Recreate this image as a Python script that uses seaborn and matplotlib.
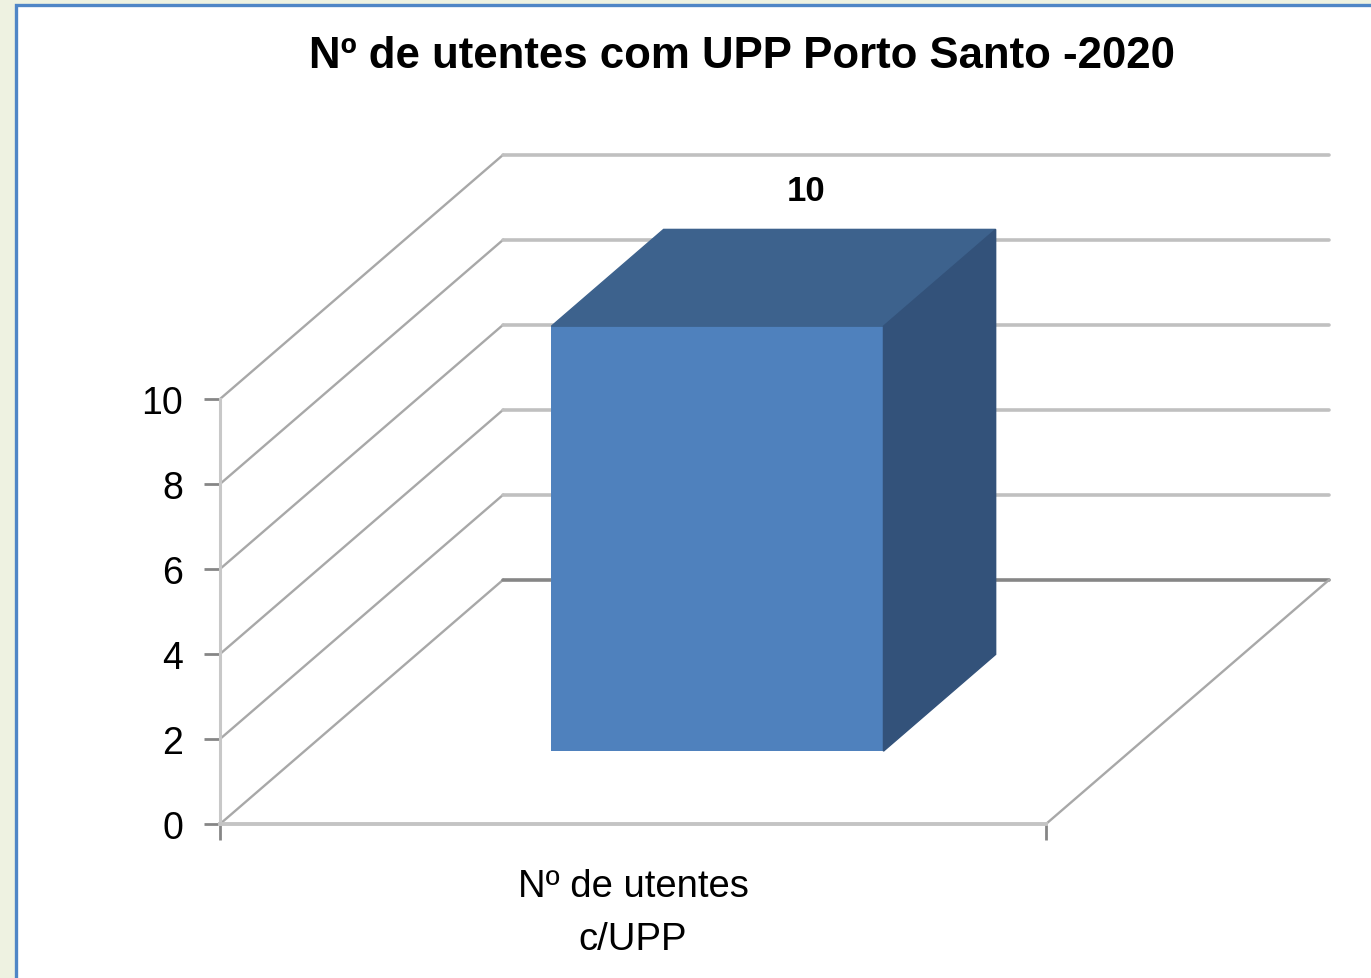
import matplotlib
matplotlib.use("Agg")
import matplotlib.pyplot as plt
from matplotlib.patches import Rectangle
import seaborn as sns

# dados do gráfico
categorias = ["Nº de utentes\nc/UPP"]
valores = [10]
ticks_y = [0, 2, 4, 6, 8, 10]
titulo = "Nº de utentes com UPP Porto Santo -2020"

sns.set_theme(style="white")
plt.rcParams['font.family'] = ['Liberation Sans', 'DejaVu Sans']

W, H = 1371, 979
fig = plt.figure(figsize=(W / 100, H / 100), dpi=100, facecolor='#eef2e1')

# painel branco com borda azul
painel = Rectangle((16 / W, -0.02), 1.1, (H - 6) / H + 0.02, transform=fig.transFigure,
                   facecolor='white', edgecolor='#4f86c6', linewidth=2.4, zorder=-1)
fig.add_artist(painel)

# eixos: x em unidades de categoria, y em valores
px_x = 826.0   # pixels por unidade de categoria
px_y = 42.5    # pixels por unidade de valor
ax = fig.add_axes([220 / W, 154 / H, 1120 / W, 675 / H])
ax.set_facecolor('none')

# profundidade (efeito 3D)
dx, dy = 0.343, 5.75
t1, t2 = 0.298, 0.694

# paredes / grelha
for v in ticks_y:
    ax.plot([-0.5, -0.5 + dx], [v, v + dy], color='#a8a8a8', lw=1.7, zorder=1, clip_on=False)
    cor = '#868686' if v == 0 else '#c0c0c0'
    ax.plot([-0.5 + dx, 0.5 + dx], [v + dy, v + dy], color=cor, lw=2.6, zorder=1, clip_on=False)
ax.plot([0.5, 0.5 + dx], [0, dy], color='#a8a8a8', lw=1.7, zorder=1, clip_on=False)

sns.barplot(x=categorias, y=valores, width=0.402, color='#4f81bd', saturation=1, ax=ax, zorder=3)

for p in ax.patches:
    x0, w, h = p.get_x(), p.get_width(), p.get_height()
    ox, oy = t1 * dx, t1 * dy
    bx, by = t2 * dx, t2 * dy
    p.set_x(x0 + ox)
    p.set_y(oy)
    p.set_edgecolor('none')
    topo = [(x0 + ox, h + oy), (x0 + w + ox, h + oy), (x0 + w + bx, h + by), (x0 + bx, h + by)]
    lado = [(x0 + w + ox, oy), (x0 + w + ox, h + oy), (x0 + w + bx, h + by), (x0 + w + bx, by)]
    ax.fill(*zip(*topo), color='#3d628d', zorder=3, clip_on=False)
    ax.fill(*zip(*lado), color='#33527a', zorder=3, clip_on=False)
    ax.annotate(f"{h:g}", xy=(x0 + w / 2 + bx, h + by), xytext=(-17, 28),
                textcoords='offset points', ha='center', va='center',
                fontsize=25, fontweight='bold', color='black')

ax.set_xlim(-0.5, -0.5 + 1120 / px_x)
ax.set_ylim(0, 675 / px_y)
ax.set_xlabel('')
ax.set_ylabel('')

for s in ['top', 'right']:
    ax.spines[s].set_visible(False)
ax.spines['left'].set_bounds(0, 10)
ax.spines['left'].set_color('#c8c8c8')
ax.spines['left'].set_linewidth(2.2)
ax.spines['bottom'].set_bounds(-0.5, 0.5)
ax.spines['bottom'].set_color('#c4c4c4')
ax.spines['bottom'].set_linewidth(2.8)

ax.set_yticks(ticks_y)
ax.tick_params(axis='y', which='major', left=True, direction='out', length=11.5, width=2,
               color='#868686', pad=15, labelsize=27, labelcolor='black')
ax.set_xticks([0])
ax.set_xticklabels(categorias)
ax.set_xticks([-0.5, 0.5], minor=True)
ax.tick_params(axis='x', which='major', bottom=True, length=0, pad=32, labelsize=27.5,
               labelcolor='black')
ax.tick_params(axis='x', which='minor', bottom=True, direction='out', length=11.5, width=2,
               color='#868686')
for lb in ax.get_xticklabels():
    lb.set_linespacing(1.6)

fig.text(742 / W, 1 - 57 / H, titulo, ha='center', va='center',
         fontsize=31.5, fontweight='bold', color='black')

fig.savefig('out.png', dpi=100)
